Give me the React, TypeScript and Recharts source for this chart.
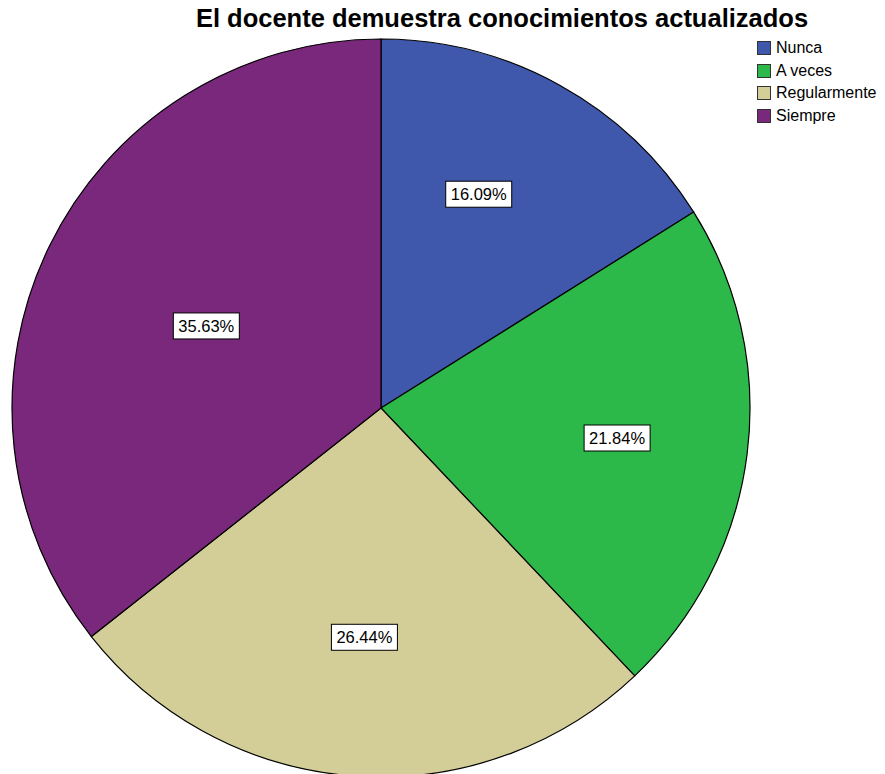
import React from 'react';
import { PieChart, Pie, Cell, Legend } from 'recharts';

const TITLE = 'El docente demuestra conocimientos actualizados';
const CATEGORIES = ['Nunca', 'A veces', 'Regularmente', 'Siempre'];
const COUNTS = [14, 19, 23, 31];
const COLORS = ['#3F58AB', '#2DB84A', '#D3CE97', '#7A287C'];
// label placement tweaks (fraction of radius, angle shift in degrees)
const LABEL_RADIUS = [0.637, 0.645, 0.623, 0.523];
const LABEL_ANGLE_SHIFT = [4.4, 0, 0, 0.7];

const FONT = '"Liberation Sans", Arial, sans-serif';
const RAD = Math.PI / 180;

const data = CATEGORIES.map((name, i) => ({ name, value: COUNTS[i] }));

const renderLabel = (props: any) => {
  const { cx, cy, midAngle, outerRadius, percent, index } = props;
  const r = outerRadius * LABEL_RADIUS[index];
  const a = (midAngle + LABEL_ANGLE_SHIFT[index]) * RAD;
  const x = cx + r * Math.cos(-a);
  const y = cy + r * Math.sin(-a);
  const text = (percent * 100).toFixed(2) + '%';
  const w = 66;
  const h = 26;
  return (
    <g key={'lbl' + index}>
      <rect x={x - w / 2} y={y - h / 2} width={w} height={h} fill="#fff" stroke="#000" strokeWidth={1} />
      <text x={x} y={y} textAnchor="middle" dominantBaseline="central" fontFamily={FONT} fontSize={16.5} fill="#000">
        {text}
      </text>
    </g>
  );
};

const renderLegend = () => (
  <div style={{ fontFamily: FONT, fontSize: 16, color: '#000' }}>
    {CATEGORIES.map((c, i) => (
      <div key={c} style={{ display: 'flex', alignItems: 'center', height: 22.5 }}>
        <span
          style={{
            display: 'inline-block',
            width: 12,
            height: 12,
            background: COLORS[i],
            border: '1px solid #333',
            marginRight: 5,
          }}
        />
        <span>{c}</span>
      </div>
    ))}
  </div>
);

export default function App() {
  return (
    <div style={{ position: 'absolute', left: 0, top: 0, width: 885, height: 774, background: '#fff', overflow: 'hidden' }}>
      <PieChart width={885} height={774} margin={{ top: 0, right: 0, bottom: 0, left: 0 }}>
        <Pie
          data={data}
          dataKey="value"
          nameKey="name"
          cx={381}
          cy={408}
          outerRadius={369}
          startAngle={90}
          endAngle={-270}
          stroke="#000"
          strokeWidth={1.2}
          label={renderLabel}
          labelLine={false}
          isAnimationActive={false}
        >
          {data.map((d, i) => (
            <Cell key={d.name} fill={COLORS[i]} />
          ))}
        </Pie>
        <Legend
          content={renderLegend}
          wrapperStyle={{ position: 'absolute', left: 757, top: 37, width: 128 }}
        />
      </PieChart>
      <svg width={885} height={40} style={{ position: 'absolute', left: 0, top: 0, pointerEvents: 'none' }}>
        <text x={502} y={27} textAnchor="middle" fontFamily={FONT} fontWeight="bold" fontSize={25.5} fill="#000">
          {TITLE}
        </text>
      </svg>
    </div>
  );
}
